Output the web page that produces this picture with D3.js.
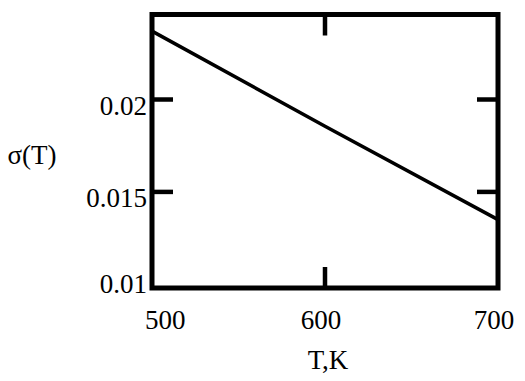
<!DOCTYPE html>
<html>
<head>
<meta charset="utf-8">
<script src="https://cdn.jsdelivr.net/npm/d3@7"></script>
<style>
    body { margin: 0; background: white; }
</style>
</head>
<body>
<div id="canvas"></div>
<script>
"use strict"

/* chart data */
let temps = [500, 600, 700];
let sigma = [0.0237, 0.01855, 0.0135];
let xTicks = [500, 600, 700];
let yTicks = [0.01, 0.015, 0.02];
let yTickLabels = ["0.01", "0.015", "0.02"];

let serif = "'Liberation Serif', 'Times New Roman', Times, 'DejaVu Serif', serif";

/* set up the drawing canvas */
let drawing = d3.select("#canvas")
    .append("svg")
    .attr("width", 525)
    .attr("height", 381)
    .style("font-family", serif);

let plotLeft = 152, plotRight = 498, plotTop = 14.5, plotBottom = 288;

let x = d3.scaleLinear().domain([500, 700]).range([plotLeft, plotRight]);
let y = d3.scaleLinear().domain([0.0098, 0.0246]).range([plotBottom, plotTop]);

/* the curve */
let line = d3.line()
    .x((d, i) => x(temps[i]))
    .y(d => y(d));

drawing.append("path")
    .datum(sigma)
    .attr("d", line)
    .attr("fill", "none")
    .attr("stroke", "black")
    .attr("stroke-width", 3.5);

/* frame */
drawing.append("rect")
    .attr("x", plotLeft)
    .attr("y", plotTop)
    .attr("width", plotRight - plotLeft)
    .attr("height", plotBottom - plotTop)
    .attr("fill", "none")
    .attr("stroke", "black")
    .attr("stroke-width", 5);

/* inner ticks, only between the ends */
let tickLen = 21;
let innerX = xTicks.filter(t => t > 500 && t < 700);
let innerY = yTicks.filter(t => y(t) > plotTop + 10 && y(t) < plotBottom - 10);

innerX.forEach(t => {
    drawing.append("line")
        .attr("x1", x(t)).attr("x2", x(t))
        .attr("y1", plotTop).attr("y2", plotTop + tickLen)
        .attr("stroke", "black").attr("stroke-width", 4.5);
    drawing.append("line")
        .attr("x1", x(t)).attr("x2", x(t))
        .attr("y1", plotBottom).attr("y2", plotBottom - tickLen)
        .attr("stroke", "black").attr("stroke-width", 4.5);
});

innerY.forEach(t => {
    drawing.append("line")
        .attr("x1", plotLeft).attr("x2", plotLeft + tickLen)
        .attr("y1", y(t)).attr("y2", y(t))
        .attr("stroke", "black").attr("stroke-width", 4.5);
    drawing.append("line")
        .attr("x1", plotRight).attr("x2", plotRight - tickLen)
        .attr("y1", y(t)).attr("y2", y(t))
        .attr("stroke", "black").attr("stroke-width", 4.5);
});

/* tick labels */
drawing.selectAll(".xlab")
    .data(xTicks)
    .enter().append("text")
    .attr("class", "xlab")
    .attr("x", (d, i) => i == 0 ? x(d) - 7 : x(d) - 4)
    .attr("y", 329)
    .attr("text-anchor", (d, i) => i == 0 ? "start" : "middle")
    .attr("font-family", serif)
    .attr("font-size", 27)
    .text(d => d);

drawing.selectAll(".ylab")
    .data(yTicks)
    .enter().append("text")
    .attr("class", "ylab")
    .attr("x", 147)
    .attr("y", d => Math.min(y(d) + 15, plotBottom + 5))
    .attr("text-anchor", "end")
    .attr("font-family", serif)
    .attr("font-size", 27)
    .text((d, i) => yTickLabels[i]);

/* axis titles */
drawing.append("text")
    .attr("x", 328)
    .attr("y", 369)
    .attr("text-anchor", "middle")
    .attr("font-family", serif)
    .attr("font-size", 27)
    .text("T,K");

drawing.append("text")
    .attr("x", 32)
    .attr("y", 164)
    .attr("text-anchor", "middle")
    .attr("font-family", serif)
    .attr("font-size", 27)
    .text("σ(T)");
</script>
</body>
</html>
